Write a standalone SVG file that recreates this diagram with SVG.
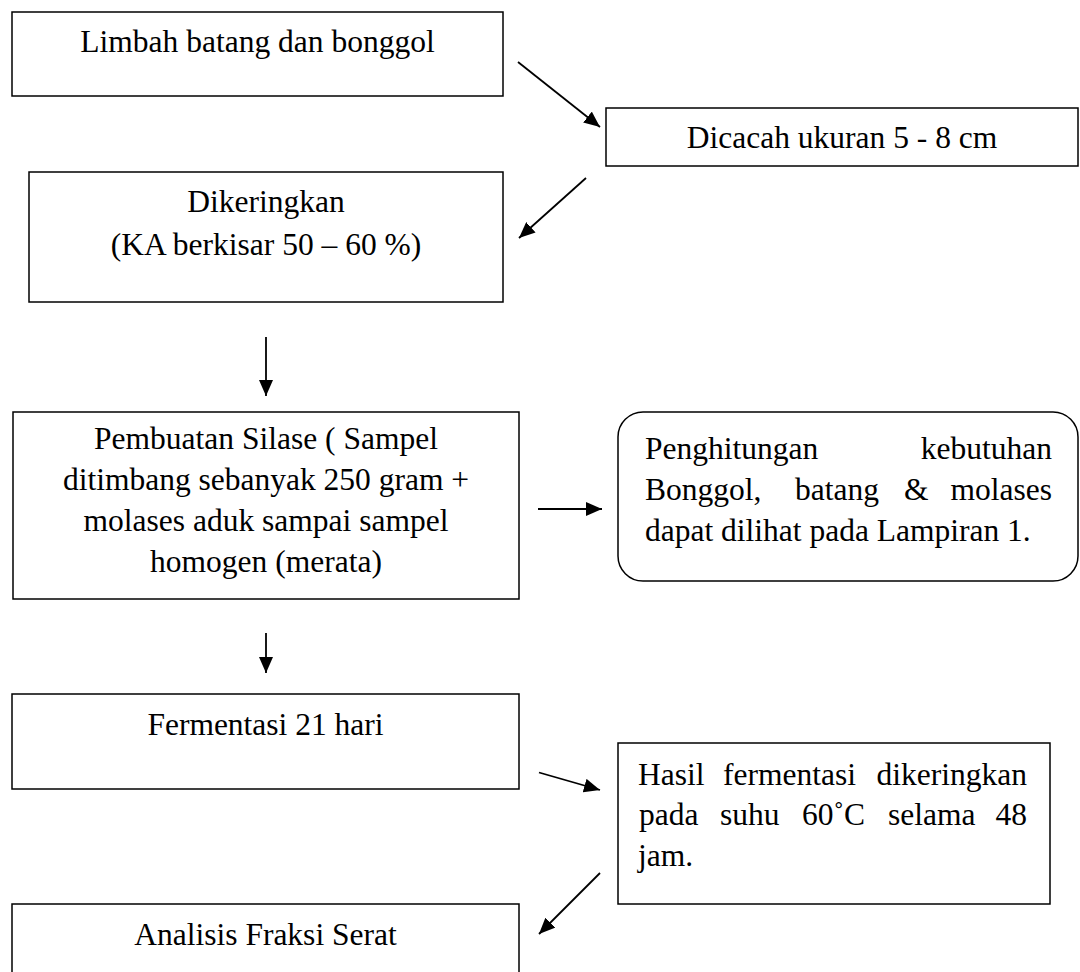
<svg xmlns="http://www.w3.org/2000/svg" width="1080" height="972" viewBox="0 0 1080 972">
<style>
.box{fill:#fff;stroke:#000;stroke-width:1.5}
.t{font-family:"Liberation Serif","Times New Roman",serif;font-size:31.5px;fill:#000}
.c{text-anchor:middle}
.e{text-anchor:end}
.ln{stroke:#000;stroke-width:1.8;fill:none;marker-end:url(#ah)}
</style>
<defs>
<marker id="ah" markerUnits="userSpaceOnUse" markerWidth="16" markerHeight="14" refX="16" refY="7" orient="auto">
<path d="M0,0 L16,7 L0,14 z" fill="#000"/>
</marker>
</defs>
<rect width="1080" height="972" fill="#fff"/>
<g id="n1">
<rect class="box" x="12" y="12" width="491" height="84"/>
<text class="t c" x="257.5" y="52">Limbah batang dan bonggol</text>
</g>
<g id="n2">
<rect class="box" x="606" y="108" width="472" height="58"/>
<text class="t c" x="842" y="148">Dicacah ukuran 5 - 8 cm</text>
</g>
<g id="n3">
<rect class="box" x="29" y="172" width="474" height="130"/>
<text class="t c" x="266" y="212">Dikeringkan</text>
<text class="t c" x="266" y="255">(KA berkisar 50 – 60 %)</text>
</g>
<g id="n4">
<rect class="box" x="13" y="412" width="506" height="187"/>
<text class="t c" x="266" y="449">Pembuatan Silase ( Sampel</text>
<text class="t c" x="266" y="490">ditimbang sebanyak 250 gram +</text>
<text class="t c" x="266" y="531">molases aduk sampai sampel</text>
<text class="t c" x="266" y="572">homogen (merata)</text>
</g>
<g id="n5">
<rect class="box" x="618" y="412" width="460" height="169" rx="25" ry="25"/>
<text class="t" y="459"><tspan x="645">Penghitungan</tspan><tspan x="1052" text-anchor="end">kebutuhan</tspan></text>
<text class="t" y="500"><tspan x="645">Bonggol,</tspan><tspan x="795">batang</tspan><tspan x="904">&amp;</tspan><tspan x="1052" text-anchor="end">molases</tspan></text>
<text class="t" x="645" y="541">dapat dilihat pada Lampiran 1.</text>
</g>
<g id="n6">
<rect class="box" x="12" y="694" width="507" height="95"/>
<text class="t c" x="265.5" y="735">Fermentasi 21 hari</text>
</g>
<g id="n7">
<rect class="box" x="618" y="743" width="432" height="161"/>
<text class="t" y="785"><tspan x="638">Hasil</tspan><tspan x="723">fermentasi</tspan><tspan x="1027" text-anchor="end">dikeringkan</tspan></text>
<text class="t" y="825"><tspan x="639">pada</tspan><tspan x="720">suhu</tspan><tspan x="802">60˚C</tspan><tspan x="888">selama</tspan><tspan x="1027" text-anchor="end">48</tspan></text>
<text class="t" x="638" y="866">jam.</text>
</g>
<g id="n8">
<rect class="box" x="12" y="904" width="507" height="90"/>
<text class="t c" x="265.5" y="945">Analisis Fraksi Serat</text>
</g>
<g id="connectors">
<line class="ln" x1="518" y1="62" x2="600" y2="127"/>
<line class="ln" x1="586" y1="178" x2="519" y2="238"/>
<line class="ln" x1="266" y1="337" x2="266" y2="396"/>
<line class="ln" x1="538" y1="509" x2="602" y2="509"/>
<line class="ln" x1="266" y1="633" x2="266" y2="673"/>
<line class="ln" x1="539" y1="772.5" x2="600" y2="790"/>
<line class="ln" x1="600" y1="873" x2="539" y2="934"/>
</g>
</svg>
